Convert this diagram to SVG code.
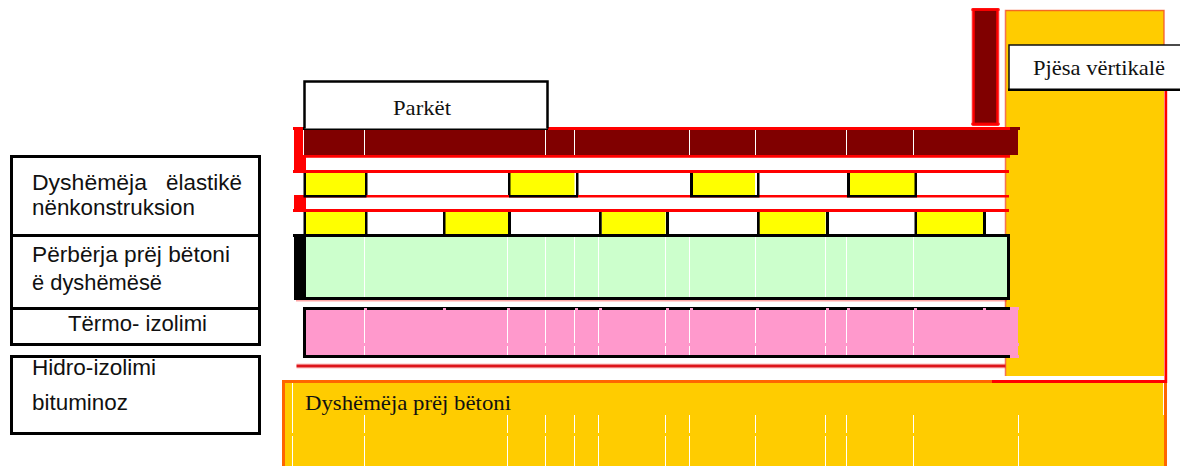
<svg xmlns="http://www.w3.org/2000/svg" width="1180" height="466" viewBox="0 0 1180 466">
<style>
.k{fill:#000}.r{fill:#f00}.y{fill:#ff0}.o{fill:#fc0}.p{fill:#f9c}.g{fill:#cfc}.w{stroke:#fff;stroke-width:1;fill:none}
.a{font-family:"Liberation Sans",Arial,sans-serif;font-size:21.500px;fill:#111}
.t{font-family:"Liberation Serif","Times New Roman",serif;font-size:21.500px;fill:#111}
</style>
<rect width="1180" height="466" fill="#fff"/>
<g id="wall">
<rect x="1006" y="10" width="158" height="366" class="o"/>
<path d="M1005.500 376V10.500H1164V46" fill="none" stroke="#f2502a" stroke-width="1.500" opacity=".8"/>
<rect x="1164.500" y="90" width="2.700" height="293" class="r"/>
</g>
<g id="column">
<rect x="973.500" y="9.500" width="24" height="115" fill="#800000" stroke="#f00" stroke-width="2.500"/>
<rect x="972" y="10" width="27" height="114.500" fill="none" stroke="#f00" stroke-width="1" opacity=".4"/>
<rect x="971" y="8" width="29" height="3" rx="1.500" fill="#f00" opacity=".7"/>
<rect x="971" y="122.500" width="29" height="3" rx="1.500" fill="#f00" opacity=".7"/>
</g>
<g id="floor">
<rect x="283.500" y="381.500" width="882" height="90" class="o" stroke="#f60" stroke-width="3"/>
<rect x="992" y="380" width="175" height="3" class="r"/>
<path class="w" d="M292.500 383V433M292.500 436V466M1163.500 383V415M364.500 415V433M364.500 436V466M507.500 415V433M507.500 436V466M545.500 415V433M545.500 436V466M574.500 415V433M574.500 436V466M598.500 415V433M598.500 436V466M665.500 415V433M665.500 436V466M689.500 415V433M689.500 436V466M755.500 415V433M755.500 436V466M825.500 415V433M825.500 436V466M846.500 415V433M846.500 436V466M913.500 415V433M913.500 436V466M1018.500 415V433M1018.500 436V466"/>
<text class="t" x="305" y="410" textLength="206" lengthAdjust="spacingAndGlyphs">Dyshëmëja prëj bëtoni</text>
</g>
<g id="yellow-battens">
<path class="y" d="M306 173h59v22h-59zM509 173h65.500v22h-65.500zM693 173h62v22h-62zM850 173h65v22h-65zM306 212h59v22h-59zM445 212h63v22h-63zM601.500 212h64v22h-64zM759 212h66.500v22h-66.500zM917 212h66v22h-66z"/>
<path class="k" d="M303.500 173h2.500v24h-2.500zM365 173h2.500v24h-2.500zM508 173h2.500v24h-2.500zM576 173h2.500v24h-2.500zM690 173h3v24h-3zM757 173h2.500v24h-2.500zM847 173h3v24h-3zM914.500 173h2.500v24h-2.500zM303.500 212h2.500v22h-2.500zM365 212h2.500v22h-2.500zM443 212h2.500v22h-2.500zM508 212h3v22h-3zM599 212h2.700v22h-2.700zM666 212h3v22h-3zM757 212h2.700v22h-2.700zM826 212h3v22h-3zM914.500 212h2.500v22h-2.500zM983 212h3v22h-3z"/>
</g>
<g id="band">
<rect x="304" y="130" width="714" height="25" fill="#800000"/>
<path class="r" d="M293 127h717v3H293zM294 130h9v25h-9zM294 155h12v17h-12zM303 155h707v2.800H303zM293 170h716v3H293zM294 195h715v2.500H294zM294 197h12v12h-12zM293 209h716v3H293z"/>
<rect x="1010" y="127" width="10" height="3" fill="#800000"/>
<rect x="303" y="127" width="245" height="3" class="k"/>
<path class="k" d="M303.500 195h63v2.500h-63zM509 195h69v2.500h-69zM690 195h69.500v2.500h-69.500zM847 195h70v2.500h-70z"/>
<path class="w" d="M364.500 130V155M545.500 130V155M574.500 130V155M689.500 130V155M755.500 130V155M846.500 130V155M913.500 130V155"/>
</g>
<g id="concrete">
<rect x="305" y="236" width="703.500" height="62" class="g"/>
<rect x="294" y="237" width="12" height="60" class="k"/>
<path class="k" d="M293 234h717v3H293zM294 297h716v3H294zM1007 234h3v66h-3z"/>
<rect x="296" y="300" width="711" height="1.500" fill="#f00" opacity=".35"/>
<path class="w" d="M364.500 237V297M507.500 237V297M545.500 237V297M574.500 237V297M598.500 237V297M665.500 237V297M689.500 237V297M755.500 237V297M825.500 237V297M846.500 237V297M913.500 237V297"/>
</g>
<g id="insulation">
<rect x="304.500" y="308.500" width="707" height="48" class="p" stroke="#000" stroke-width="3"/>
<path class="p" d="M1010 307h9v3h-9zM1010 310h8v45h-8zM1010 355h9v3h-9zM1018 343h1v3h-1z"/>
<path class="p" d="M364 308h3v2h-3zM443 308h3v2h-3zM507 308h3v2h-3zM575 308h3v2h-3zM599 308h3v2h-3zM666 308h3v2h-3zM690 308h3v2h-3zM756 308h3v2h-3zM826 308h3v2h-3zM847 308h3v2h-3zM914 308h3v2h-3zM983 308h3v2h-3z"/>
<path class="w" d="M364.500 310V343M364.500 346V355M507.500 310V343M507.500 346V355M545.500 310V343M545.500 346V355M574.500 310V343M574.500 346V355M598.500 310V343M598.500 346V355M665.500 310V343M665.500 346V355M689.500 310V343M689.500 346V355M755.500 310V343M755.500 346V355M825.500 310V343M825.500 346V355M846.500 310V343M846.500 346V355M913.500 310V343M913.500 346V355"/>
</g>
<g id="hydro">
<rect x="296.500" y="364.500" width="709" height="3" fill="#d9181f"/>
<rect x="296.500" y="363" width="709" height="6" fill="#f00" opacity=".12"/>
</g>
<g id="parket">
<path d="M304.500 128.500V81.500H547.500V128.500" fill="#fff" stroke="#000" stroke-width="2.500"/>
<text class="t" x="393" y="115" textLength="58" lengthAdjust="spacingAndGlyphs">Parkët</text>
</g>
<g id="vertical-label">
<path d="M1180 45H1009V89.500H1180Z" fill="#fff"/>
<path d="M1180 45H1009V89.500" fill="none" stroke="#111" stroke-width="1.500"/>
<rect x="1008" y="88.500" width="172" height="2.500" class="k"/>
<text class="t" x="1033" y="75" textLength="132" lengthAdjust="spacingAndGlyphs">Pjësa vërtikalë</text>
</g>
<g id="labels">
<rect x="11.500" y="156.500" width="248" height="277" fill="#fff"/>
<rect x="0" y="346" width="270" height="9" fill="#fff"/>
<path d="M11.500 156.500H259.500V344.500H11.500ZM11.500 235.500H259.500M11.500 308.500H259.500M11.500 356.500H259.500V433.500H11.500Z" fill="none" stroke="#000" stroke-width="3"/>
<text class="a" x="32" y="190" textLength="115" lengthAdjust="spacingAndGlyphs">Dyshëmëja</text>
<text class="a" x="166" y="190" textLength="76" lengthAdjust="spacingAndGlyphs">ëlastikë</text>
<text class="a" x="32" y="215" textLength="163" lengthAdjust="spacingAndGlyphs">nënkonstruksion</text>
<text class="a" x="32" y="262" textLength="198" lengthAdjust="spacingAndGlyphs">Përbërja prëj bëtoni</text>
<text class="a" x="32" y="290" textLength="130" lengthAdjust="spacingAndGlyphs">ë dyshëmësë</text>
<text class="a" x="68" y="331" textLength="139" lengthAdjust="spacingAndGlyphs">Tërmo- izolimi</text>
<text class="a" x="32" y="375" textLength="124" lengthAdjust="spacingAndGlyphs">Hidro-izolimi</text>
<text class="a" x="32" y="410" textLength="96" lengthAdjust="spacingAndGlyphs">bituminoz</text>
</g>
</svg>
